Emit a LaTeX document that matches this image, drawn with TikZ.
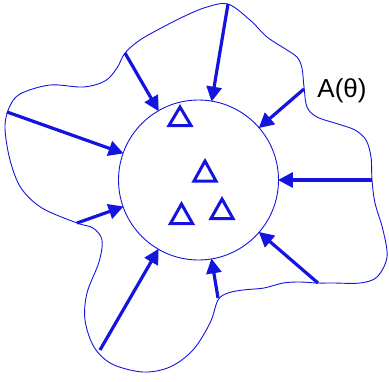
\documentclass[tikz,border=0pt]{standalone}
\usepackage{fontspec}
\setmainfont{Liberation Sans}
\usetikzlibrary{arrows.meta}
\definecolor{bl}{RGB}{20,20,225}
\tikzset{
  outline/.style={draw=bl, line width=0.9pt},
  ray/.style={draw=bl, line width=3.2pt, -{Triangle[length=15pt,width=15pt]}, shorten >=-1pt},
  tri/.style={draw=bl, line width=3pt, line join=miter},
}
\begin{document}
\begin{tikzpicture}[x=1pt,y=-1pt]
\useasboundingbox (0,0) rectangle (389,381);
\draw[outline] plot[smooth cycle, tension=0.55] coordinates {
(125,53) (140,40) (163,27) (187,15) (207,7) (228,4) (250,20) (267,37) (287,50) (297,57) (302,68) (304,87) (307,107) (317,117) (338,124) (355,130) (366,140) (371,157) (372,180) (375,203) (383,230) (387,257) (377,277) (360,283) (333,283) (317,283) (300,282) (283,283) (264,288) (243,290) (228,293) (218,300) (210,323) (193,350) (170,367) (143,372) (112,364) (94,347) (85,320) (87,293) (99,262) (102,240) (93,228) (77,223) (42,208) (21,188) (10,160) (5,128) (9,108) (20,94) (50,85) (83,87) (105,81) (117,68)};
\node[circle, draw=bl, line width=0.9pt, minimum size=160pt, inner sep=0pt] (c) at (198.5,180) {};
\coordinate (p1) at (125,53);
\coordinate (p2) at (228,4);
\coordinate (p3) at (304,89);
\coordinate (p4) at (372,180);
\coordinate (p5) at (318,283);
\coordinate (p6) at (218,298);
\coordinate (p7) at (100,350);
\coordinate (p8) at (77,223);
\coordinate (p9) at (7,112);
\foreach \i in {1,...,9} \draw[ray] (p\i) -- (c);
\draw[tri] (169,125.5) -- (191,125.5) -- (180,107) -- cycle;
\draw[tri] (194,181) -- (216,181) -- (205,161) -- cycle;
\draw[tri] (170.5,223.5) -- (192.5,223.5) -- (181.5,204) -- cycle;
\draw[tri] (211,218.5) -- (233,218.5) -- (222,199) -- cycle;
\node[font=\fontsize{26}{30}\selectfont, text=black] (lab) at (342,91) {A(θ)};
\end{tikzpicture}
\end{document}
